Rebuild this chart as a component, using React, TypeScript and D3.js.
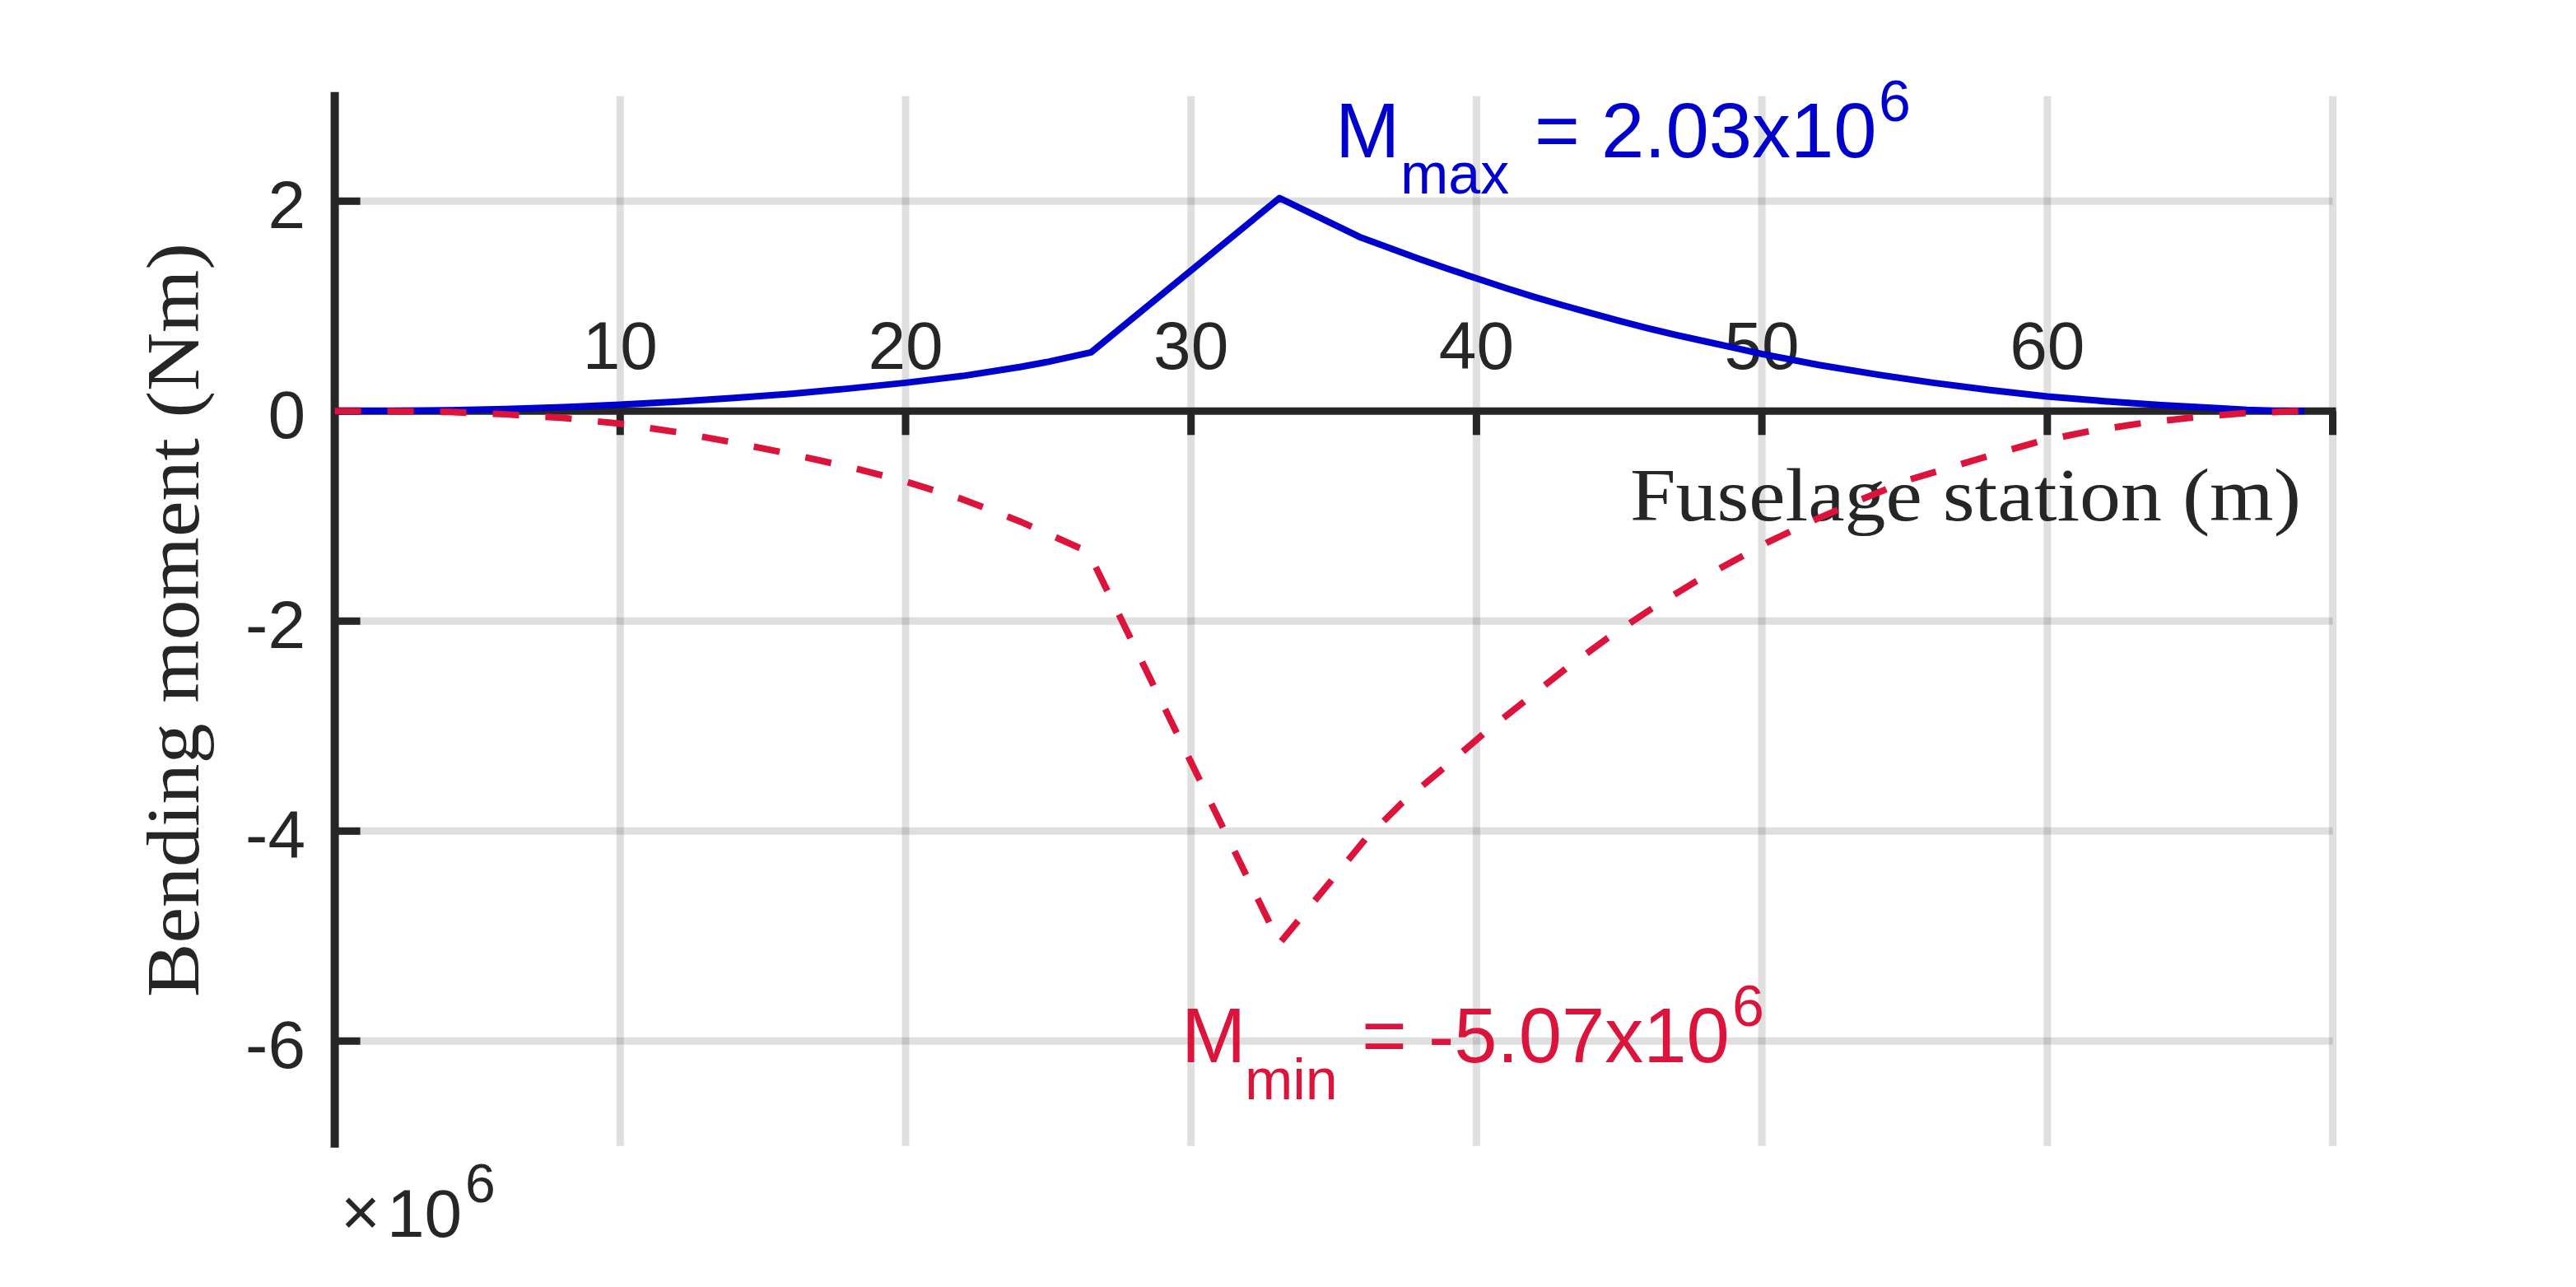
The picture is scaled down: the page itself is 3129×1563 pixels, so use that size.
import React, { useEffect, useRef } from "react";
import * as d3 from "d3";

// fuselage station (m) and bending moment (x10^6 Nm)
const stationMax = [0, 2, 4, 6, 8, 10, 12, 14, 16, 18, 20, 22, 24, 25, 26.5, 33.1, 35.9, 37, 38, 39, 40, 41, 42, 43, 44, 45, 46, 47, 48, 49, 50, 52, 54, 56, 58, 60, 62, 64, 66, 67, 68, 69];
const momentMax = [0, 0.002, 0.008, 0.02, 0.037, 0.062, 0.09, 0.125, 0.165, 0.215, 0.27, 0.335, 0.42, 0.47, 0.56, 2.03, 1.66, 1.55, 1.45, 1.355, 1.265, 1.175, 1.09, 1.01, 0.935, 0.86, 0.79, 0.725, 0.665, 0.605, 0.545, 0.44, 0.35, 0.27, 0.2, 0.14, 0.095, 0.058, 0.028, 0.012, 0.003, 0];

const stationMin = [0, 2, 4, 6, 8, 10, 12, 14, 16, 18, 20, 22, 24, 25, 26.4, 33.1, 36.1, 37.4, 38.85, 40.26, 41.66, 43.1, 44.6, 46.2, 47.7, 50.2, 51.9, 53.5, 55.2, 57.9, 59.7, 61.5, 63.3, 65.1, 66.9, 68.8];
const momentMin = [0, -0.002, -0.008, -0.03, -0.065, -0.12, -0.2, -0.3, -0.41, -0.53, -0.67, -0.84, -1.05, -1.17, -1.34, -5.07, -4.08, -3.73, -3.4, -3.07, -2.77, -2.46, -2.16, -1.87, -1.62, -1.25, -1.03, -0.84, -0.65, -0.43, -0.29, -0.19, -0.115, -0.06, -0.02, 0];

const xTicks = [10, 20, 30, 40, 50, 60, 70];
const xTickLabels = ["10", "20", "30", "40", "50", "60", ""];
const yTicks = [2, 0, -2, -4, -6];
const yTickLabels = ["2", "0", "-2", "-4", "-6"];

const sans = "'Liberation Sans', Arial, Helvetica, sans-serif";
const serif = "'Liberation Serif', 'Times New Roman', serif";
const ink = "#262626";

const App = () => {
  const svgRef = useRef(null);

  useEffect(() => {
    const svg = d3.select(svgRef.current);
    svg.selectAll("*").remove();

    const x = d3.scaleLinear().domain([0, 70]).range([406.6, 2833.5]);
    const y = d3.scaleLinear().domain([-7, 3]).range([1391.8, 116.8]);

    svg.append("rect").attr("width", 3129).attr("height", 1563).attr("fill", "#fff");

    // grid
    const grid = svg.append("g").attr("stroke", ink).attr("stroke-opacity", 0.15).attr("stroke-width", 9);
    grid
      .selectAll("line.v")
      .data(xTicks)
      .join("line")
      .attr("class", "v")
      .attr("x1", (d) => x(d))
      .attr("x2", (d) => x(d))
      .attr("y1", y(3))
      .attr("y2", y(-7));
    grid
      .selectAll("line.h")
      .data(yTicks.filter((d) => d !== 0))
      .join("line")
      .attr("class", "h")
      .attr("x1", x(0))
      .attr("x2", x(70))
      .attr("y1", (d) => y(d))
      .attr("y2", (d) => y(d));

    // axes (origin style)
    const axes = svg.append("g").attr("stroke", ink);
    axes
      .append("line")
      .attr("x1", x(0))
      .attr("x2", x(0))
      .attr("y1", y(3) - 5)
      .attr("y2", y(-7) + 2)
      .attr("stroke-width", 10);
    axes
      .selectAll("line.yt")
      .data(yTicks)
      .join("line")
      .attr("class", "yt")
      .attr("x1", x(0))
      .attr("x2", x(0) + 31)
      .attr("y1", (d) => y(d))
      .attr("y2", (d) => y(d))
      .attr("stroke-width", 9);
    axes
      .append("line")
      .attr("x1", x(0))
      .attr("x2", x(70) + 4)
      .attr("y1", y(0))
      .attr("y2", y(0))
      .attr("stroke-width", 9);
    axes
      .selectAll("line.xt")
      .data(xTicks)
      .join("line")
      .attr("class", "xt")
      .attr("x1", (d) => x(d))
      .attr("x2", (d) => x(d))
      .attr("y1", y(0))
      .attr("y2", y(0) + 29)
      .attr("stroke-width", 9);

    // tick labels
    svg
      .append("g")
      .attr("font-family", sans)
      .attr("font-size", 82)
      .attr("fill", ink)
      .attr("text-anchor", "middle")
      .selectAll("text")
      .data(xTicks)
      .join("text")
      .attr("x", (d) => x(d))
      .attr("y", y(0) - 51)
      .text((d, i) => xTickLabels[i]);

    svg
      .append("g")
      .attr("font-family", sans)
      .attr("font-size", 82)
      .attr("fill", ink)
      .attr("text-anchor", "end")
      .selectAll("text")
      .data(yTicks)
      .join("text")
      .attr("x", 371)
      .attr("y", (d) => y(d) + 33)
      .text((d, i) => yTickLabels[i]);

    // exponent
    const expo = svg.append("g").attr("font-family", sans).attr("fill", ink);
    expo.append("text").attr("x", 414).attr("y", 1500).attr("font-size", 82).text("\u00d7");
    expo.append("text").attr("x", 470).attr("y", 1502).attr("font-size", 82).text("10");
    expo.append("text").attr("x", 565).attr("y", 1460).attr("font-size", 66).text("6");

    // axis labels
    svg
      .append("text")
      .attr("font-family", serif)
      .attr("font-size", 92)
      .attr("fill", ink)
      .attr("text-anchor", "end")
      .attr("x", 2795)
      .attr("y", 632)
      .attr("textLength", 815)
      .attr("lengthAdjust", "spacingAndGlyphs")
      .text("Fuselage station (m)");

    svg
      .append("text")
      .attr("font-family", serif)
      .attr("font-size", 92)
      .attr("fill", ink)
      .attr("text-anchor", "middle")
      .attr("transform", `translate(241,753) rotate(-90)`)
      .attr("textLength", 916)
      .attr("lengthAdjust", "spacingAndGlyphs")
      .text("Bending moment (Nm)");

    // curves
    const line = d3
      .line()
      .x((d) => x(d[0]))
      .y((d) => y(d[1]));

    svg
      .append("path")
      .datum(stationMax.map((s, i) => [s, momentMax[i]]))
      .attr("d", line)
      .attr("fill", "none")
      .attr("stroke", "#0000CC")
      .attr("stroke-width", 8)
      .attr("stroke-linejoin", "round");

    svg
      .append("path")
      .datum(stationMin.map((s, i) => [s, momentMin[i]]))
      .attr("d", line)
      .attr("fill", "none")
      .attr("stroke", "#DC143C")
      .attr("stroke-width", 8)
      .attr("stroke-dasharray", "32 32")
      .attr("stroke-linejoin", "round");

    // annotations
    const maxVal = d3.max(momentMax).toFixed(2);
    const minVal = d3.min(momentMin).toFixed(2);

    const annMax = svg.append("g").attr("font-family", sans).attr("fill", "#0000CC");
    annMax.append("text").attr("x", 1622).attr("y", 191).attr("font-size", 94).text("M");
    annMax.append("text").attr("x", 1701).attr("y", 235).attr("font-size", 70).text("max");
    annMax.append("text").attr("x", 1864).attr("y", 191).attr("font-size", 94).text(`= ${maxVal}x10`);
    annMax.append("text").attr("x", 2282).attr("y", 147).attr("font-size", 70).text("6");

    const annMin = svg.append("g").attr("font-family", sans).attr("fill", "#DC143C");
    annMin.append("text").attr("x", 1435).attr("y", 1290).attr("font-size", 94).text("M");
    annMin.append("text").attr("x", 1512).attr("y", 1335).attr("font-size", 70).text("min");
    annMin.append("text").attr("x", 1654).attr("y", 1290).attr("font-size", 94).text(`= ${minVal}x10`);
    annMin.append("text").attr("x", 2104).attr("y", 1246).attr("font-size", 70).text("6");
  }, []);

  return (
    <svg
      ref={svgRef}
      width={3129}
      height={1563}
      style={{ position: "absolute", left: 0, top: 0, display: "block" }}
    ></svg>
  );
};

export default App;
